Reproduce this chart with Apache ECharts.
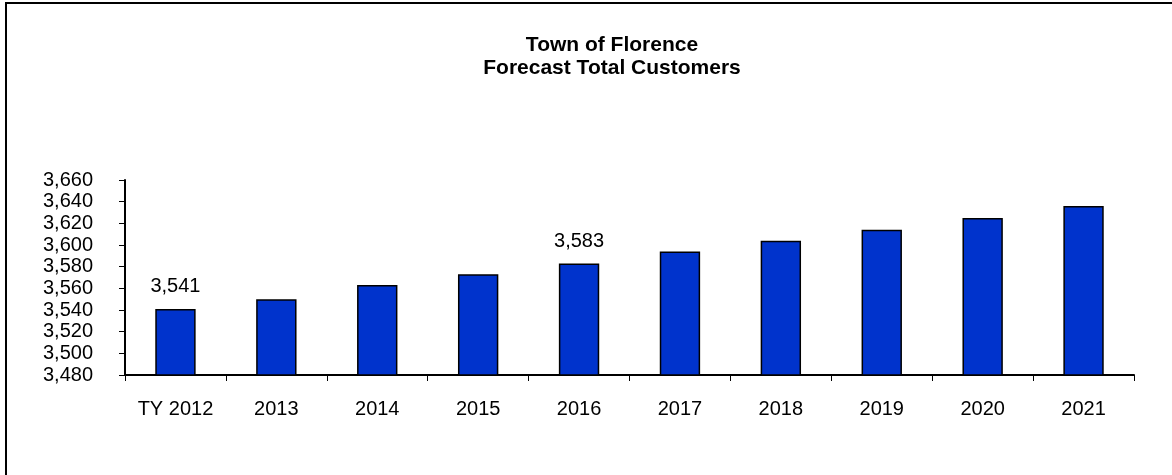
<!DOCTYPE html>
<html>
<head>
<meta charset="utf-8">
<script src="https://cdn.jsdelivr.net/npm/echarts@6/dist/echarts.min.js"></script>
<style>
    html, body { margin: 0; padding: 0; background: #fff; }
    #chart { width: 1172px; height: 475px; }
</style>
</head>
<body>
<div id="chart"></div>
<script>
// data
var years = ['TY 2012', '2013', '2014', '2015', '2016', '2017', '2018', '2019', '2020', '2021'];
var customers = [3541, 3550, 3563, 3573, 3583, 3594, 3604, 3614, 3625, 3636];
var labelled = [0, 4]; // only these bars carry a value label

var font = 'Arial, "Liberation Sans", sans-serif';

function fmt(v) {
    return String(v).replace(/\B(?=(\d{3})+(?!\d))/g, ',');
}

var seriesData = [];
for (var i = 0; i < customers.length; i++) {
    seriesData.push({
        value: customers[i],
        label: { show: labelled.indexOf(i) >= 0 }
    });
}

var chart = echarts.init(document.getElementById('chart'));
var option = {
    animation: false,
    backgroundColor: '#fff',
    graphic: [{
        type: 'rect',
        shape: { x: 6, y: 3, width: 1300, height: 600 },
        style: { fill: 'none', stroke: '#000', lineWidth: 2 },
        silent: true
    }],
    title: {
        text: 'Town of Florence\nForecast Total Customers',
        left: 607,
        top: 29,
        textAlign: 'center',
        textStyle: {
            fontFamily: font,
            fontSize: 21,
            fontWeight: 'bold',
            color: '#000',
            lineHeight: 23
        }
    },
    grid: {
        left: 125,
        right: 38,
        top: 180,
        bottom: 100
    },
    xAxis: {
        type: 'category',
        data: years,
        axisLine: { lineStyle: { color: '#000', width: 2 } },
        axisTick: { show: true, length: 6, lineStyle: { color: '#000', width: 1 } },
        axisLabel: {
            margin: 24,
            fontFamily: font,
            fontSize: 20,
            color: '#000'
        }
    },
    yAxis: {
        type: 'value',
        min: 3480,
        max: 3660,
        interval: 20,
        axisLine: { show: true, lineStyle: { color: '#000', width: 2 } },
        axisTick: { show: true, length: 6, lineStyle: { color: '#000', width: 1 } },
        splitLine: { show: false },
        axisLabel: {
            margin: 32,
            fontFamily: font,
            fontSize: 20,
            color: '#000',
            formatter: fmt
        }
    },
    series: [{
        type: 'bar',
        data: seriesData,
        barWidth: '40%',
        itemStyle: {
            color: '#0033cc',
            borderColor: '#000',
            borderWidth: 1.5
        },
        label: {
            position: 'top',
            distance: 12,
            fontFamily: font,
            fontSize: 20,
            color: '#000',
            formatter: function (p) { return fmt(p.value); }
        }
    }]
};
chart.setOption(option);
</script>
</body>
</html>
